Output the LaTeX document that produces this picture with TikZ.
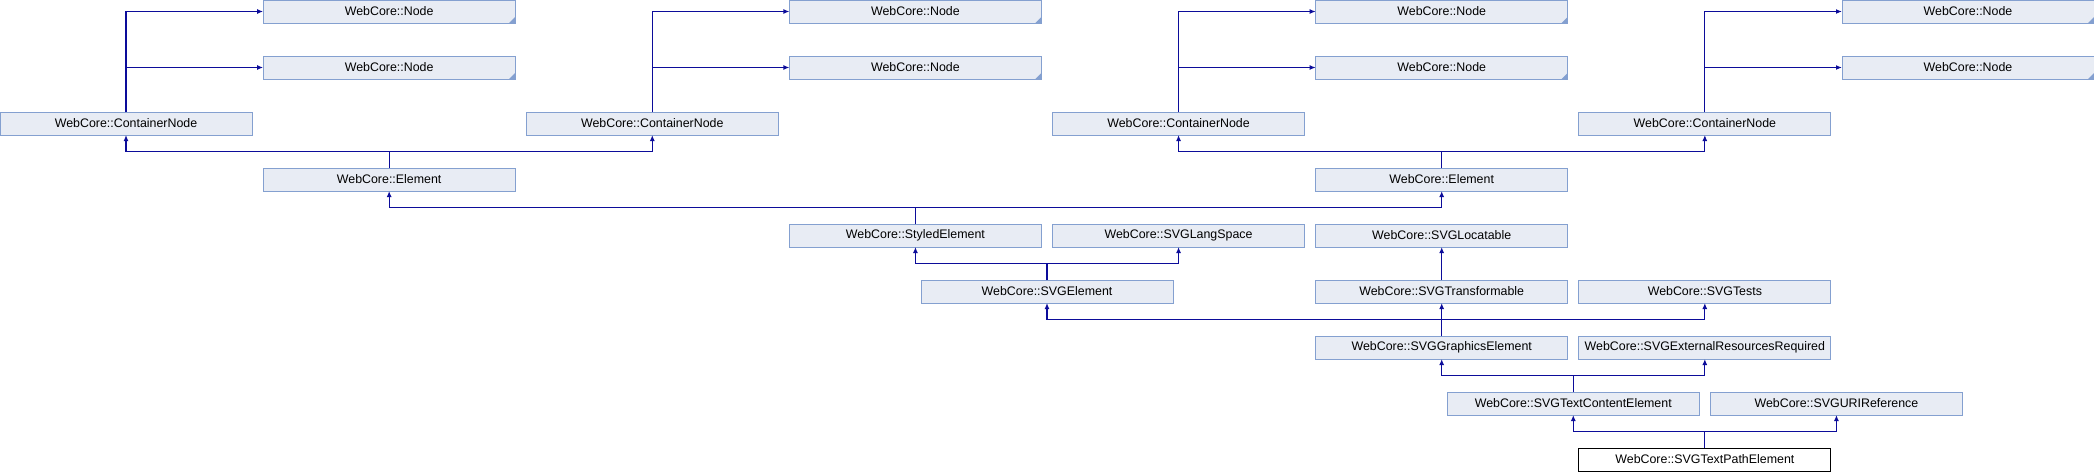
\documentclass[tikz,border=0pt]{standalone}
\usepackage{fontspec}
\setmainfont{Liberation Sans}
\usetikzlibrary{arrows.meta,positioning}
\definecolor{clsfill}{HTML}{E8ECF4}
\definecolor{clsline}{HTML}{84A0D0}
\definecolor{edgecolor}{HTML}{0C0C9A}

\begin{document}
\begin{tikzpicture}[
  x=263.14pt, y=-56pt,
  cls/.style={draw=clsline, fill=clsfill, line width=1pt, minimum width=252pt, minimum height=23pt,
    inner sep=0pt, outer sep=0pt, anchor=north west, font=\fontsize{12.4pt}{14pt}\selectfont},
  cur/.style={cls, draw=black, fill=white},
  arr/.style={-{Latex[length=6pt,width=5pt]}, draw=edgecolor, line width=1.2pt}
]
  \path[use as bounding box] (0pt,0pt) rectangle (2094pt,-472pt);

  % container nodes and their two Node bases
  \foreach \i/\c in {1/1,2/3,3/5,4/7} {
    \node[cls] (nda\i) at (\c,0) {WebCore::Node};
    \node[cls] (ndb\i) at (\c,1) {WebCore::Node};
    \node[cls] (cn\i) at (\c-1,2) {WebCore::ContainerNode};
    \fill[clsline] (nda\i.south east) -- ++(-6pt,0) -- ++(6pt,6pt) -- cycle;
    \fill[clsline] (ndb\i.south east) -- ++(-6pt,0) -- ++(6pt,6pt) -- cycle;
    \draw[arr] (cn\i.north) |- (nda\i.west);
    \draw[arr] (cn\i.north) |- (ndb\i.west);
  }

  \node[cls] (el1) at (1,3) {WebCore::Element};
  \node[cls] (el2) at (5,3) {WebCore::Element};
  \node[cls] (styled) at (3,4) {WebCore::StyledElement};
  \node[cls] (langspace) at (4,4) {WebCore::SVGLangSpace};
  \node[cls] (locatable) at (5,4) {WebCore::SVGLocatable};
  \node[cls] (svgel) at (3.5,5) {WebCore::SVGElement};
  \node[cls] (transformable) at (5,5) {WebCore::SVGTransformable};
  \node[cls] (tests) at (6,5) {WebCore::SVGTests};
  \node[cls] (graphics) at (5,6) {WebCore::SVGGraphicsElement};
  \node[cls] (extres) at (6,6) {WebCore::SVGExternalResourcesRequired};
  \node[cls] (textcontent) at (5.5,7) {WebCore::SVGTextContentElement};
  \node[cls] (uriref) at (6.5,7) {WebCore::SVGURIReference};
  \node[cur] (textpath) at (6,8) {WebCore::SVGTextPathElement};

  \draw[arr] (el1.north) -- ++(0,16.5pt) -| (cn1.south);
  \draw[arr] (el1.north) -- ++(0,16.5pt) -| (cn2.south);
  \draw[arr] (el2.north) -- ++(0,16.5pt) -| (cn3.south);
  \draw[arr] (el2.north) -- ++(0,16.5pt) -| (cn4.south);
  \draw[arr] (styled.north) -- ++(0,16.5pt) -| (el1.south);
  \draw[arr] (styled.north) -- ++(0,16.5pt) -| (el2.south);
  \draw[arr] (svgel.north) -- ++(0,16.5pt) -| (styled.south);
  \draw[arr] (svgel.north) -- ++(0,16.5pt) -| (langspace.south);
  \draw[arr] (transformable) -- (locatable);
  \draw[arr] (graphics.north) -- ++(0,16.5pt) -| (svgel.south);
  \draw[arr] (graphics.north) -- ++(0,16.5pt) -| (transformable.south);
  \draw[arr] (graphics.north) -- ++(0,16.5pt) -| (tests.south);
  \draw[arr] (textcontent.north) -- ++(0,16.5pt) -| (graphics.south);
  \draw[arr] (textcontent.north) -- ++(0,16.5pt) -| (extres.south);
  \draw[arr] (textpath.north) -- ++(0,16.5pt) -| (textcontent.south);
  \draw[arr] (textpath.north) -- ++(0,16.5pt) -| (uriref.south);
\end{tikzpicture}
\end{document}
